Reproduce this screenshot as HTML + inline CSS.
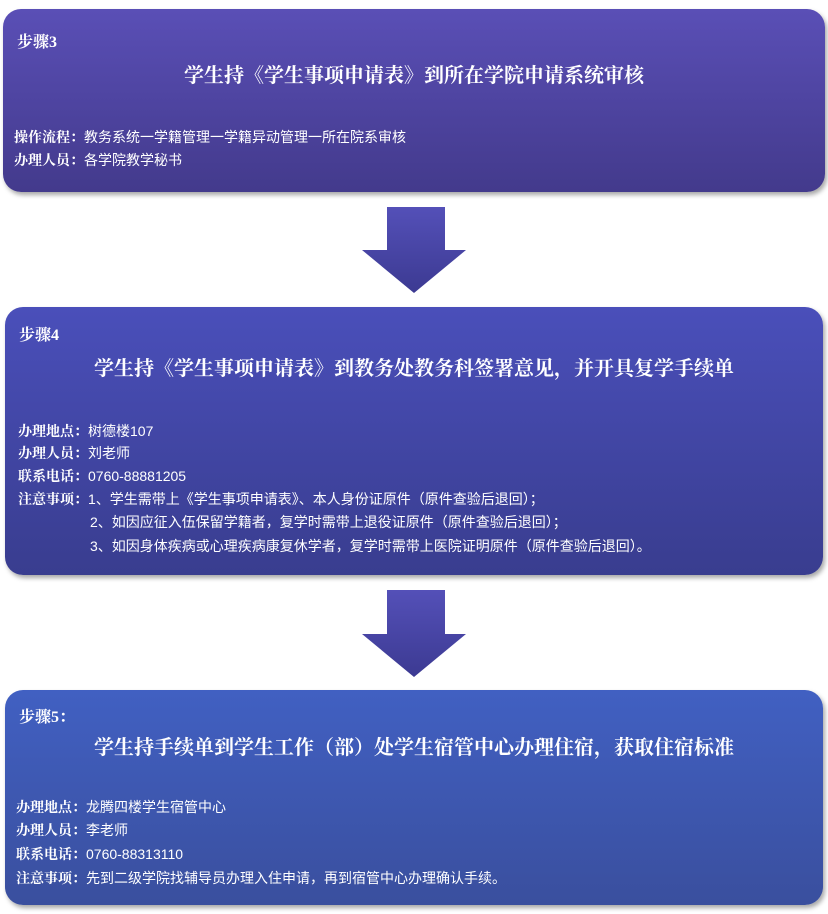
<!DOCTYPE html>
<html><head><meta charset="utf-8"><style>
body{margin:0;width:828px;height:914px;background:#fff;position:relative;overflow:hidden;font-family:"Liberation Serif","Noto Serif CJK SC",serif;color:#fff}
.box{position:absolute;border-radius:18px;box-shadow:2px 3px 5px rgba(0,0,0,.35)}
.t{position:absolute;white-space:nowrap;line-height:1}
.s{font-weight:bold;font-size:16px}
.h{font-weight:bold;font-size:20px;left:0;right:0;text-align:center}
.l{font-size:14px;font-family:"Liberation Sans","Noto Sans CJK SC",sans-serif}
.l b{font-family:"Liberation Serif","Noto Serif CJK SC",serif}
</style></head><body>
<div class="box" style="left:3px;top:9px;width:822px;height:183px;background:linear-gradient(#5a4fb6,#433a8c)">
<div class="t s" style="left:14px;top:26px">步骤3</div>
<div class="t h" style="top:57px">学生持《学生事项申请表》到所在学院申请系统审核</div>
<div class="t l" style="left:11px;top:121px"><b>操作流程：</b>教务系统一学籍管理一学籍异动管理一所在院系审核</div>
<div class="t l" style="left:11px;top:144px"><b>办理人员：</b>各学院教学秘书</div>
</div>
<svg style="position:absolute;left:0;top:0" width="828" height="914">
<defs><linearGradient id="g" x1="0" y1="0" x2="0" y2="1"><stop offset="0" stop-color="#5450b8"/><stop offset="1" stop-color="#3c3a92"/></linearGradient></defs>
<polygon points="387,207 445,207 445,250 466,250 414,293 362,250 387,250" fill="url(#g)"/>
<polygon points="387,590 445,590 445,634 466,634 414,677 362,634 387,634" fill="url(#g)"/>
</svg>
<div class="box" style="left:5px;top:307px;width:818px;height:268px;background:linear-gradient(#4a4fba,#393d8f)">
<div class="t s" style="left:14px;top:21px">步骤4</div>
<div class="t h" style="top:52px">学生持《学生事项申请表》到教务处教务科签署意见，并开具复学手续单</div>
<div class="t l" style="left:13px;top:117px"><b>办理地点：</b>树德楼107</div>
<div class="t l" style="left:13px;top:139px"><b>办理人员：</b>刘老师</div>
<div class="t l" style="left:13px;top:162px"><b>联系电话：</b>0760-88881205</div>
<div class="t l" style="left:13px;top:185px"><b>注意事项：</b>1、学生需带上《学生事项申请表》、本人身份证原件（原件查验后退回）；</div>
<div class="t l" style="left:85px;top:208px">2、如因应征入伍保留学籍者，复学时需带上退役证原件（原件查验后退回）；</div>
<div class="t l" style="left:85px;top:232px">3、如因身体疾病或心理疾病康复休学者，复学时需带上医院证明原件（原件查验后退回）。</div>
</div>
<div class="box" style="left:5px;top:690px;width:818px;height:215px;background:linear-gradient(#4160c2,#3a4f9e)">
<div class="t s" style="left:14px;top:20px">步骤5：</div>
<div class="t h" style="top:48px">学生持手续单到学生工作（部）处学生宿管中心办理住宿，获取住宿标准</div>
<div class="t l" style="left:11px;top:110px"><b>办理地点：</b>龙腾四楼学生宿管中心</div>
<div class="t l" style="left:11px;top:133px"><b>办理人员：</b>李老师</div>
<div class="t l" style="left:11px;top:157px"><b>联系电话：</b>0760-88313110</div>
<div class="t l" style="left:11px;top:181px"><b>注意事项：</b>先到二级学院找辅导员办理入住申请，再到宿管中心办理确认手续。</div>
</div>
</body></html>
